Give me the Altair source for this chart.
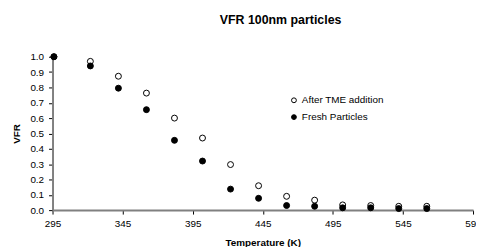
import altair as alt
import pandas as pd

temps = [296, 322, 342, 362, 382, 402, 422, 442, 462, 482, 502, 522, 542, 562]
after_tme = [1.0, 0.97, 0.873, 0.763, 0.60, 0.47, 0.297, 0.159, 0.09, 0.065, 0.034, 0.03, 0.025, 0.025]
fresh = [1.0, 0.94, 0.795, 0.655, 0.455, 0.32, 0.137, 0.077, 0.03, 0.025, 0.015, 0.015, 0.01, 0.01]
series = ["After TME addition", "Fresh Particles"]

rows = []
for t, v in zip(temps, after_tme):
    rows.append({"T": t, "VFR": v, "Series": series[0]})
for t, v in zip(temps, fresh):
    rows.append({"T": t, "VFR": v, "Series": series[1]})
df = pd.DataFrame(rows)

FONT = "Liberation Sans"

chart = alt.Chart(df).mark_point(filled=True, stroke="black", strokeWidth=1, size=36, opacity=1).encode(
    x=alt.X("T:Q", title="Temperature (K)",
            scale=alt.Scale(domain=[295, 595], nice=False, zero=False),
            axis=alt.Axis(values=[295, 345, 395, 445, 495, 545, 595], grid=False,
                          domainColor="#808080", domainWidth=2, tickColor="black",
                          tickSize=4, labelPadding=5, labelFontSize=10, labelFont=FONT,
                          labelColor="black", titleFont=FONT, titleFontSize=10,
                          titleFontWeight="bold", titleColor="black", titlePadding=9,
                          labelFlush=False, labelOverlap=False)),
    y=alt.Y("VFR:Q", title="VFR",
            scale=alt.Scale(domain=[0, 1], nice=False),
            axis=alt.Axis(values=[0, 0.1, 0.2, 0.3, 0.4, 0.5, 0.6, 0.7, 0.8, 0.9, 1.0],
                          format=".1f", grid=False,
                          domainColor="#808080", domainWidth=2, tickColor="black",
                          tickSize=4, labelPadding=5, labelFontSize=10, labelFont=FONT,
                          labelColor="black", titleFont=FONT, titleFontSize=10,
                          titleFontWeight="bold", titleColor="black", titlePadding=8,
                          labelOverlap=False)),
    fill=alt.Fill("Series:N", scale=alt.Scale(domain=series, range=["white", "black"]),
                  legend=alt.Legend(title=None, orient="none", legendX=239, legendY=39,
                                    symbolType="circle", symbolSize=24,
                                    symbolStrokeColor="black", symbolStrokeWidth=1,
                                    labelFont=FONT, labelFontSize=10, labelColor="black",
                                    rowPadding=7, symbolOffset=0, labelOffset=3)),
).properties(
    width=425,
    height=155,
    title=alt.TitleParams("VFR 100nm particles", font=FONT, fontSize=12.5,
                          fontWeight="bold", color="black", dx=18, offset=26),
    autosize=alt.AutoSizeParams(type="none"),
    padding={"left": 45, "top": 48, "right": 3, "bottom": 36},
).configure_view(stroke=None)

chart.save("out.html", embed_options={"renderer": "svg", "actions": False})
